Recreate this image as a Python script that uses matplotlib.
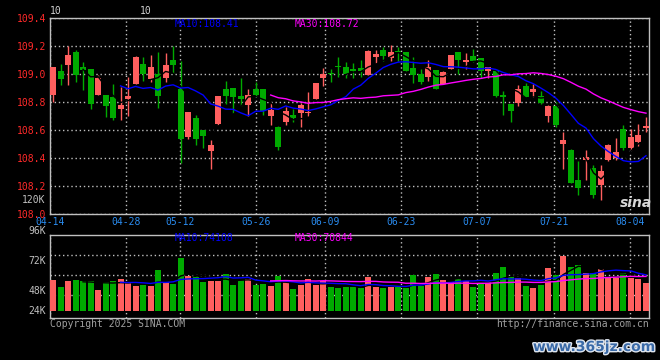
import numpy as np
import pandas as pd
import matplotlib
matplotlib.use("Agg")
import matplotlib.pyplot as plt
import matplotlib.patheffects as pe

# daily candles, 04-14 .. 08-07
opens = [108.852, 109.017, 109.060, 109.160, 109.052, 109.038, 108.852, 108.852, 108.836, 108.745,
         108.819, 108.924, 109.074, 108.960, 109.000, 108.969, 109.102, 108.895, 108.545, 108.681,
         108.595, 108.445, 108.638, 108.888, 108.902, 108.845, 108.774, 108.895, 108.888, 108.695,
         108.617, 108.652, 108.702, 108.717, 108.717, 108.817, 108.967, 109.002, 109.052, 109.052,
         109.038, 109.045, 108.995, 109.124, 109.174, 109.110, 109.167, 109.160, 109.045, 109.002,
         108.981, 109.031, 108.924, 109.038, 109.160, 109.088, 109.131, 109.110, 109.024, 109.024,
         108.852, 108.781, 108.788, 108.910, 108.867, 108.838, 108.695, 108.767, 108.495, 108.452,
         108.238, 108.381, 108.324, 108.202, 108.381, 108.395, 108.602, 108.467, 108.510, 108.610]
highs = [109.052, 109.074, 109.200, 109.174, 109.088, 109.038, 108.995, 108.852, 108.924, 108.907,
         108.974, 109.131, 109.124, 109.138, 109.160, 109.152, 109.200, 109.095, 108.724, 108.702,
         108.595, 108.524, 108.845, 108.952, 108.902, 108.967, 108.888, 108.945, 108.895, 108.788,
         108.624, 108.760, 108.745, 108.788, 108.867, 108.938, 109.045, 109.038, 109.124, 109.088,
         109.081, 109.102, 109.174, 109.174, 109.195, 109.210, 109.195, 109.160, 109.124, 109.038,
         109.102, 109.031, 109.017, 109.138, 109.160, 109.152, 109.181, 109.110, 109.052, 109.031,
         108.874, 108.781, 108.917, 108.938, 108.924, 108.874, 108.774, 108.795, 108.581, 108.460,
         108.374, 108.452, 108.345, 108.345, 108.495, 108.538, 108.631, 108.602, 108.638, 108.688]
lows = [108.795, 108.917, 108.917, 108.940, 108.881, 108.745, 108.852, 108.690, 108.667, 108.667,
        108.695, 108.924, 108.948, 108.940, 108.752, 108.940, 109.002, 108.360, 108.531, 108.488,
        108.467, 108.317, 108.631, 108.781, 108.717, 108.767, 108.695, 108.838, 108.702, 108.631,
        108.452, 108.631, 108.652, 108.617, 108.695, 108.817, 108.910, 108.945, 108.974, 108.967,
        108.967, 108.981, 108.995, 109.081, 109.095, 109.095, 109.095, 109.024, 108.931, 108.924,
        108.952, 108.895, 108.924, 109.038, 109.002, 109.038, 109.088, 108.967, 108.967, 108.831,
        108.702, 108.652, 108.767, 108.831, 108.831, 108.781, 108.652, 108.617, 108.317, 108.217,
        108.131, 108.238, 108.110, 108.095, 108.374, 108.381, 108.452, 108.452, 108.481, 108.581]
closes = [109.048, 108.960, 109.138, 108.990, 109.026, 108.781, 108.971, 108.767, 108.681, 108.776,
          108.845, 109.124, 108.998, 109.052, 108.845, 109.067, 109.060, 108.531, 108.724, 108.531,
          108.552, 108.488, 108.838, 108.838, 108.831, 108.817, 108.852, 108.852, 108.731, 108.738,
          108.474, 108.731, 108.681, 108.774, 108.724, 108.931, 109.002, 108.998, 109.048, 108.998,
          109.017, 109.017, 109.167, 109.145, 109.131, 109.160, 109.160, 109.024, 108.995, 108.945,
          109.052, 108.895, 109.010, 109.138, 109.102, 109.102, 109.095, 109.024, 109.052, 108.845,
          108.831, 108.731, 108.895, 108.831, 108.888, 108.788, 108.767, 108.631, 108.524, 108.217,
          108.181, 108.402, 108.131, 108.302, 108.488, 108.438, 108.467, 108.545, 108.560, 108.624]
# volume in K
volumes = [53.1, 46.4, 52.1, 53.1, 52.1, 52.1, 43.6, 51.2, 52.1, 54.0,
           50.2, 47.4, 48.3, 47.4, 62.5, 51.2, 49.3, 73.9, 56.8, 55.9,
           51.2, 52.1, 52.1, 58.7, 48.3, 53.1, 54.0, 48.3, 49.3, 47.4,
           56.8, 53.1, 44.5, 48.3, 54.0, 48.3, 52.1, 46.4, 45.5, 46.4,
           46.4, 45.5, 55.9, 46.4, 45.5, 46.4, 46.4, 45.5, 57.8, 47.4,
           55.9, 58.7, 53.1, 51.2, 54.0, 52.1, 46.4, 51.2, 51.2, 59.7,
           65.4, 55.9, 54.9, 47.4, 45.5, 48.3, 64.4, 57.8, 75.8, 65.4,
           67.3, 59.7, 59.7, 63.5, 55.9, 54.9, 59.7, 54.9, 54.0, 50.2]

date_labels = ['04-14', '04-28', '05-12', '05-26', '06-09', '06-23', '07-07', '07-21', '08-04']
date_idx = [0, 10, 17, 27, 36, 46, 56, 66, 76]
price_ticks = [108.0, 108.2, 108.4, 108.6, 108.8, 109.0, 109.2, 109.4]
vol_labels = ['24K', '48K', '72K', '96K', '120K']
vol_label_pos = [24, 43, 71, 99.5, 129]

RED = '#ff5f5f'
GREEN = '#00aa00'
GRID = '#c0c0c0'
MONO = 'DejaVu Sans Mono'

W, H = 660, 360


def px(x, y):
	return x / W, 1 - y / H


def style_axes(ax, tick_pos):
	ax.set_facecolor('black')
	for s in ax.spines.values():
		s.set_color(GRID)
		s.set_linewidth(1)
	ax.set_xticks(tick_pos)
	ax.grid(True, color=GRID, linestyle=(0, (1, 2)), linewidth=1)
	ax.tick_params(length=0)
	ax.set_xlim(-0.4, 79.44)


x = np.arange(len(closes))
o = np.array(opens)
c = np.array(closes)
colors = [RED if c[i] >= o[i] else GREEN for i in range(len(x))]
tick_pos = [i * 1.0167 - 0.4 for i in date_idx]

fig = plt.figure(figsize=(6.6, 3.6), dpi=100, facecolor='black')
ax = fig.add_axes([50 / W, 1 - 213.5 / H, 599.3 / W, 195.5 / H])
axv = fig.add_axes([50 / W, 1 - 318 / H, 599.3 / W, 83.3 / H])

# price panel
style_axes(ax, tick_pos)
ax.set_ylim(108.0, 109.4)
ax.set_yticks(price_ticks)
ax.set_yticklabels(['%.1f' % p for p in price_ticks], color='#ff2a2a', family=MONO, fontsize=7)
ax.set_xticklabels(date_labels, color='#2a8cf0', family=MONO, fontsize=7)
ax.tick_params(axis='x', pad=2.5)
ax.tick_params(axis='y', pad=2.5)

ax.vlines(x, lows, highs, color=colors, linewidth=1, zorder=2)
body = np.maximum(np.abs(c - o), 0.006)
ax.bar(x, body, bottom=np.minimum(o, c), width=0.8, color=colors, linewidth=0, zorder=3)

cs = pd.Series(closes)
ax.plot(x, cs.rolling(5).mean(), color='black', linewidth=1, zorder=4)
ax.plot(x, cs.rolling(10).mean(), color='#0000ff', linewidth=1, zorder=4)
ax.plot(x, cs.rolling(30).mean(), color='#ff00ff', linewidth=1, zorder=4)

ax.text(0.2086, 0.969, 'MA10:108.41', transform=ax.transAxes, color='#0000ff',
        family=MONO, fontsize=7, va='center')
ax.text(0.4088, 0.969, 'MA30:108.72', transform=ax.transAxes, color='#ff00ff',
        family=MONO, fontsize=7, va='center')

# volume panel
style_axes(axv, tick_pos)
axv.set_ylim(17.1, 96)
axv.set_yticks([38.6, 57.5, 76.5])
axv.set_yticklabels([])
axv.set_xticklabels([])
vol = np.array(volumes)
axv.bar(x, vol - 24, bottom=24, width=0.8, color=colors, linewidth=0, zorder=3)
vs = pd.Series(volumes)
axv.plot(x, vs.rolling(5).mean(), color='black', linewidth=1, zorder=4)
axv.plot(x, vs.rolling(10).mean(), color='#0000ff', linewidth=1, zorder=4)
axv.plot(x, vs.rolling(30).mean(), color='#ff00ff', linewidth=1, zorder=4)
for lab, pos in zip(vol_labels, vol_label_pos):
	axv.text(-0.007, pos, lab, transform=axv.get_yaxis_transform(), ha='right', va='center',
	         color='#c0c0c0', family=MONO, fontsize=7, clip_on=False)
axv.text(0.2086, 0.957, 'MA10:74108', transform=axv.transAxes, color='#0000ff',
         family=MONO, fontsize=7, va='center')
axv.text(0.4088, 0.957, 'MA30:70844', transform=axv.transAxes, color='#ff00ff',
         family=MONO, fontsize=7, va='center')

# odd bits around the chart
fig.text(*px(56, 11), '10', color='#d0d0d0', family=MONO, fontsize=7, ha='center', va='center')
fig.text(*px(146, 11), '10', color='#d0d0d0', family=MONO, fontsize=7, ha='center', va='center')
fig.text(*px(50, 323.7), 'Copyright 2025 SINA.COM', color='#a0a0a0', family=MONO,
         fontsize=7, ha='left', va='center')
fig.text(*px(649.3, 323.7), 'http://finance.sina.com.cn', color='#a0a0a0', family=MONO,
         fontsize=7, ha='right', va='center')
fig.text(*px(636, 203), 'sina', color='#d8d8d8', fontsize=10, style='italic',
         weight='bold', ha='center', va='center')
wm = fig.text(*px(594, 347), 'www.365jz.com', color='#3a6aa8', fontsize=10,
              weight='bold', ha='center', va='center')
wm.set_path_effects([pe.withStroke(linewidth=2, foreground='#dde4ee')])

fig.savefig('out.png', dpi=100, facecolor='black')
